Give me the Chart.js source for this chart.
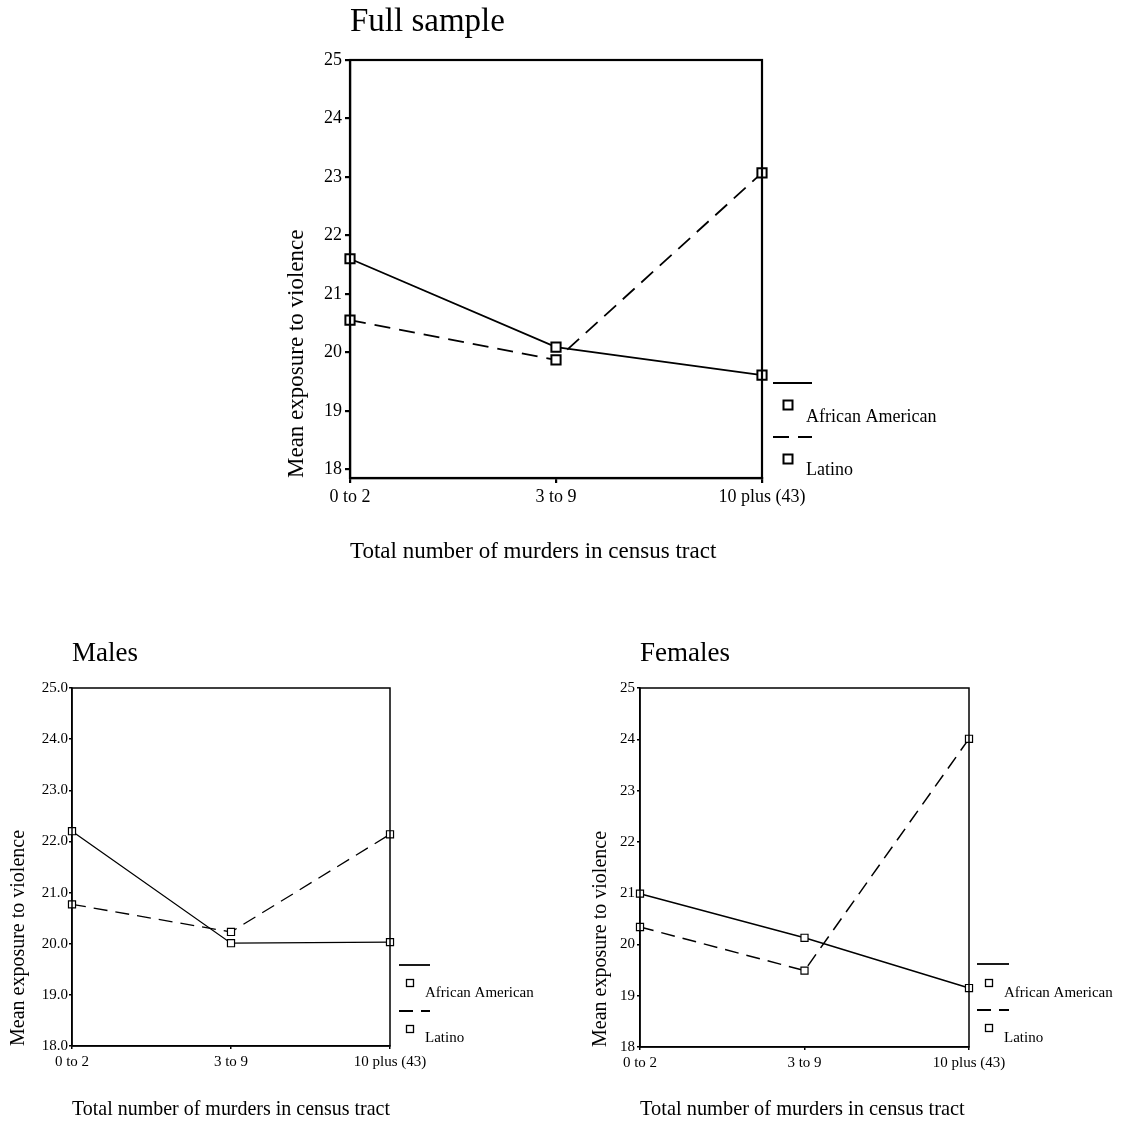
<!DOCTYPE html>
<html>
<head>
<meta charset="utf-8">
<script src="https://cdn.jsdelivr.net/npm/chart.js@4.4.1/dist/chart.umd.min.js"></script>
<style>
    html, body { margin: 0; padding: 0; background: #fff; }
    body { width: 1123px; height: 1123px; position: relative; overflow: hidden; }
    .panel { position: absolute; }
</style>
</head>
<body>
<div class="panel" style="left:270px; top:0px;"><canvas id="full-chart" width="700" height="580"></canvas></div>
<div class="panel" style="left:0px; top:620px;"><canvas id="males-chart" width="560" height="510"></canvas></div>
<div class="panel" style="left:580px; top:620px;"><canvas id="females-chart" width="543" height="510"></canvas></div>
<script>
// Data
const categories = ['0 to 2', '3 to 9', '10 plus (43)'];
const seriesLabels = ['African American', 'Latino'];
const yTicks = [18, 19, 20, 21, 22, 23, 24, 25];

const fullAfricanAmerican = [21.60, 20.09, 19.61];
const fullLatino = [20.55, 19.87, 23.07];
const malesAfricanAmerican = [22.20, 20.01, 20.03];
const malesLatino = [20.77, 20.23, 22.14];
const femalesAfricanAmerican = [20.99, 20.13, 19.15];
const femalesLatino = [20.34, 19.49, 24.01];

const SERIF = "'Liberation Serif', 'Times New Roman', serif";
Chart.defaults.font.family = SERIF;
Chart.defaults.color = '#000';

// box round the plot area
const framePlugin = {
    id: 'frame',
    afterDatasetsDraw(chart, args, opts) {
        const { ctx, chartArea: a } = chart;
        ctx.save();
        ctx.strokeStyle = '#000';
        ctx.lineWidth = opts.width;
        ctx.strokeRect(a.left, a.top, a.right - a.left, a.bottom - a.top);
        ctx.restore();
    }
};

// key at the lower right, line sample above, marker and name below
const keyPlugin = {
    id: 'sideKey',
    afterDraw(chart, args, o) {
        const { ctx, chartArea: a } = chart;
        ctx.save();
        chart.data.datasets.forEach((ds, i) => {
            const r = o.rows[i];
            ctx.strokeStyle = '#000';
            ctx.lineWidth = o.lineWidth;
            ctx.setLineDash(ds.borderDash || []);
            ctx.beginPath();
            ctx.moveTo(a.right + o.lineX, a.bottom + r[0]);
            ctx.lineTo(a.right + o.lineX + o.lineLen, a.bottom + r[0]);
            ctx.stroke();
            ctx.setLineDash([]);
            ctx.lineWidth = o.markerBorder;
            const s = o.markerSize;
            ctx.strokeRect(a.right + o.markerX - s / 2, a.bottom + r[1] - s / 2, s, s);
            ctx.fillStyle = '#000';
            ctx.font = o.fontSize + 'px ' + SERIF;
            ctx.textAlign = 'left';
            ctx.textBaseline = 'middle';
            ctx.fillText(ds.label, a.right + o.textX, a.bottom + r[2]);
        });
        ctx.restore();
    }
};

function buildChart(id, data, p) {
    const dataset = (label, values, dash) => ({
        label: label,
        data: values,
        borderColor: '#000',
        borderWidth: p.lineWidth,
        borderDash: dash,
        pointStyle: 'rect',
        pointRadius: p.pointRadius,
        pointBorderWidth: p.pointBorder,
        pointBorderColor: '#000',
        pointBackgroundColor: '#fff',
        tension: 0,
        fill: false
    });

    return new Chart(document.getElementById(id), {
        type: 'line',
        data: {
            labels: categories,
            datasets: [
                dataset(seriesLabels[0], data.african, []),
                dataset(seriesLabels[1], data.latino, p.dash)
            ]
        },
        options: {
            responsive: false,
            animation: false,
            layout: { padding: { left: 0, top: 0, right: p.padRight, bottom: 0 } },
            plugins: {
                legend: { display: false },
                tooltip: { enabled: false },
                title: {
                    display: true,
                    text: data.title,
                    align: 'start',
                    fullSize: false,
                    color: '#000',
                    font: { size: p.titleSize, weight: 'normal' },
                    padding: { top: p.titlePadTop, bottom: p.titlePadBottom }
                },
                frame: { width: p.frameWidth },
                sideKey: p.key
            },
            scales: {
                x: {
                    type: 'category',
                    offset: false,
                    afterFit: (s) => { s.height = p.xHeight; },
                    grid: { drawOnChartArea: false, drawTicks: true, tickLength: p.tickLen, color: '#000', lineWidth: p.frameWidth },
                    border: { display: true, color: '#000', width: p.frameWidth },
                    ticks: { color: '#000', font: { size: p.xTickSize }, padding: p.xTickPad, maxRotation: 0, autoSkip: false },
                    title: {
                        display: true,
                        text: 'Total number of murders in census tract',
                        align: 'start',
                        color: '#000',
                        font: { size: p.axisTitleX },
                        padding: { top: 0, bottom: p.xTitlePad }
                    }
                },
                y: {
                    min: p.yMin,
                    max: 25,
                    afterBuildTicks: (s) => { s.ticks = yTicks.map(v => ({ value: v })); },
                    afterFit: (s) => { s.width = p.yWidth; },
                    grid: { drawOnChartArea: false, drawTicks: true, tickLength: p.tickLen, color: '#000', lineWidth: p.frameWidth },
                    border: { display: true, color: '#000', width: p.frameWidth },
                    ticks: {
                        color: '#000',
                        font: { size: p.yTickSize },
                        padding: p.yTickPad,
                        callback: (v) => p.decimals ? Number(v).toFixed(1) : String(v)
                    },
                    title: {
                        display: true,
                        text: 'Mean exposure to violence',
                        align: 'start',
                        color: '#000',
                        font: { size: p.axisTitleY },
                        padding: { top: p.yTitlePad, bottom: 0 }
                    }
                }
            }
        },
        plugins: [framePlugin, keyPlugin]
    });
}

buildChart('full-chart',
    { title: 'Full sample', african: fullAfricanAmerican, latino: fullLatino },
    {
        padRight: 208, xHeight: 102, yWidth: 80, yMin: 17.85,
        titleSize: 33, titlePadTop: 3, titlePadBottom: 17.4,
        lineWidth: 1.8, dash: [16, 9], pointRadius: 6.5, pointBorder: 2,
        frameWidth: 2.2, tickLen: 5,
        xTickSize: 18, xTickPad: 3, yTickSize: 18, yTickPad: 3,
        axisTitleX: 23, xTitlePad: 14.2, axisTitleY: 23, yTitlePad: 13,
        decimals: false,
        key: {
            lineX: 11, lineLen: 39, markerX: 26, textX: 44, lineWidth: 2.2,
            markerSize: 9, markerBorder: 2, fontSize: 18,
            rows: [[-95, -73, -61], [-41, -19, -8]]
        }
    });

buildChart('males-chart',
    { title: 'Males', african: malesAfricanAmerican, latino: malesLatino },
    {
        padRight: 170, xHeight: 84, yWidth: 72, yMin: 18,
        titleSize: 27, titlePadTop: 17.8, titlePadBottom: 17.8,
        lineWidth: 1.3, dash: [14, 8], pointRadius: 5, pointBorder: 1.2,
        frameWidth: 1.5, tickLen: 3,
        xTickSize: 15, xTickPad: 4, yTickSize: 15, yTickPad: 1,
        axisTitleX: 20.4, xTitlePad: 8, axisTitleY: 20, yTitlePad: 7,
        decimals: true,
        key: {
            lineX: 9, lineLen: 31, markerX: 20, textX: 35, lineWidth: 1.8,
            markerSize: 7, markerBorder: 1.3, fontSize: 15,
            rows: [[-81, -63, -53], [-35, -17, -8]]
        }
    });

buildChart('females-chart',
    { title: 'Females', african: femalesAfricanAmerican, latino: femalesLatino },
    {
        padRight: 154, xHeight: 83, yWidth: 60, yMin: 18,
        titleSize: 27, titlePadTop: 17.8, titlePadBottom: 17.8,
        lineWidth: 1.5, dash: [14, 8], pointRadius: 5, pointBorder: 1.2,
        frameWidth: 1.5, tickLen: 3,
        xTickSize: 15, xTickPad: 4, yTickSize: 15, yTickPad: 2,
        axisTitleX: 20.4, xTitlePad: 8, axisTitleY: 20, yTitlePad: 9,
        decimals: false,
        key: {
            lineX: 8, lineLen: 32, markerX: 20, textX: 35, lineWidth: 1.8,
            markerSize: 7, markerBorder: 1.3, fontSize: 15,
            rows: [[-83, -64, -54], [-37, -19, -9]]
        }
    });
</script>
</body>
</html>
